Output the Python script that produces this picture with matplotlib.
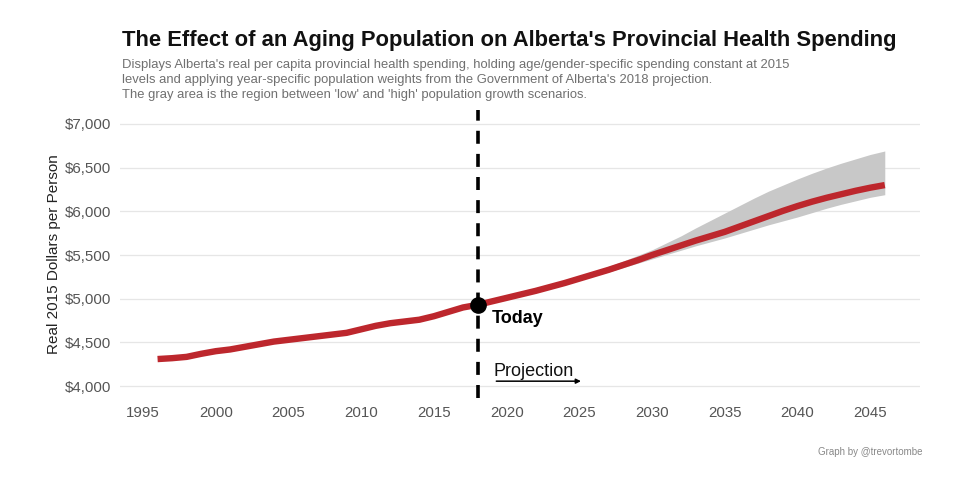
import matplotlib
matplotlib.use("Agg")
import matplotlib.pyplot as plt
import numpy as np

plt.rcParams['font.family'] = ['Liberation Sans', 'DejaVu Sans']

hist_years = list(range(1996, 2019))
hist_values = [4310, 4320, 4335, 4370, 4400, 4420, 4450, 4480, 4510, 4530,
               4550, 4570, 4590, 4610, 4650, 4690, 4720, 4740, 4760, 4800,
               4850, 4900, 4930]

proj_years = list(range(2018, 2047))
proj_central = [4930, 4970, 5010, 5050, 5090, 5135, 5180, 5230, 5280, 5330,
                5385, 5440, 5500, 5555, 5610, 5665, 5715, 5765, 5825, 5885,
                5945, 6005, 6060, 6110, 6155, 6195, 6235, 6270, 6300]
proj_high = [4930, 4975, 5015, 5060, 5100, 5150, 5200, 5255, 5310, 5370,
             5430, 5495, 5560, 5640, 5720, 5810, 5895, 5980, 6065, 6150,
             6230, 6300, 6370, 6435, 6495, 6550, 6600, 6650, 6690]
proj_low = [4930, 4965, 5005, 5040, 5080, 5125, 5165, 5210, 5260, 5305,
            5355, 5405, 5455, 5505, 5555, 5605, 5650, 5695, 5745, 5795,
            5845, 5890, 5935, 5985, 6035, 6080, 6120, 6160, 6190]

today_year = 2018
today_value = 4930

x_ticks = [1995, 2000, 2005, 2010, 2015, 2020, 2025, 2030, 2035, 2040, 2045]
y_ticks = [4000, 4500, 5000, 5500, 6000, 6500, 7000]
y_labels = ["$4,000", "$4,500", "$5,000", "$5,500", "$6,000", "$6,500", "$7,000"]

fig = plt.figure(figsize=(9.58, 4.82), dpi=100)
ax = fig.add_axes([0.125, 0.174, 0.835, 0.598])

ax.fill_between(proj_years, proj_low, proj_high, color='#c8c8c8', lw=0, zorder=2)
years_all = hist_years + proj_years[1:]
vals_all = hist_values + proj_central[1:]
ax.plot(years_all, vals_all, color='#bd272d', lw=4.6, solid_capstyle='butt',
        solid_joinstyle='round', zorder=3)

ax.set_xlim(1993.4, 2048.4)
ax.set_ylim(3863, 7160)
ax.axvline(today_year, color='black', lw=2.6, ls=(0, (3.6, 2.8)), zorder=4)
ax.plot([today_year], [today_value], 'o', color='black', ms=11, zorder=5)

ax.text(2019.0, 4775, "Today", fontsize=13, fontweight='bold', va='center', ha='left', zorder=6)
ax.text(2019.1, 4115, "Projection", fontsize=13, va='baseline', ha='left', color='#111111')
ax.annotate("", xy=(2025.3, 4057), xytext=(2019.1, 4057),
            arrowprops=dict(arrowstyle='-|>', color='black', lw=1.1, mutation_scale=7))

ax.set_xticks(x_ticks)
ax.set_yticks(y_ticks)
ax.set_yticklabels(y_labels)
ax.tick_params(axis='both', length=0, labelsize=10.8, labelcolor='#555555')
ax.tick_params(axis='x', pad=6)
ax.tick_params(axis='y', pad=6)
ax.grid(axis='y', color='#e6e6e6', lw=0.9)
ax.grid(axis='x', visible=False)
for s in ax.spines.values():
    s.set_visible(False)
ax.set_ylabel("Real 2015 Dollars per Person", fontsize=11, color='#222222', labelpad=3)

fig.text(0.127, 0.917, "The Effect of an Aging Population on Alberta's Provincial Health Spending",
         fontsize=15.8, fontweight='bold', ha='left', va='center', color='#111111')
fig.text(0.127, 0.877,
         "Displays Alberta's real per capita provincial health spending, holding age/gender-specific spending constant at 2015\n"
         "levels and applying year-specific population weights from the Government of Alberta's 2018 projection.\n"
         "The gray area is the region between 'low' and 'high' population growth scenarios.",
         fontsize=9.4, ha='left', va='top', color='#707070', linespacing=1.3)
fig.text(0.963, 0.062, "Graph by @trevortombe", fontsize=7, ha='right', va='center', color='#888888')

fig.savefig("out.png", dpi=100, facecolor='white')
